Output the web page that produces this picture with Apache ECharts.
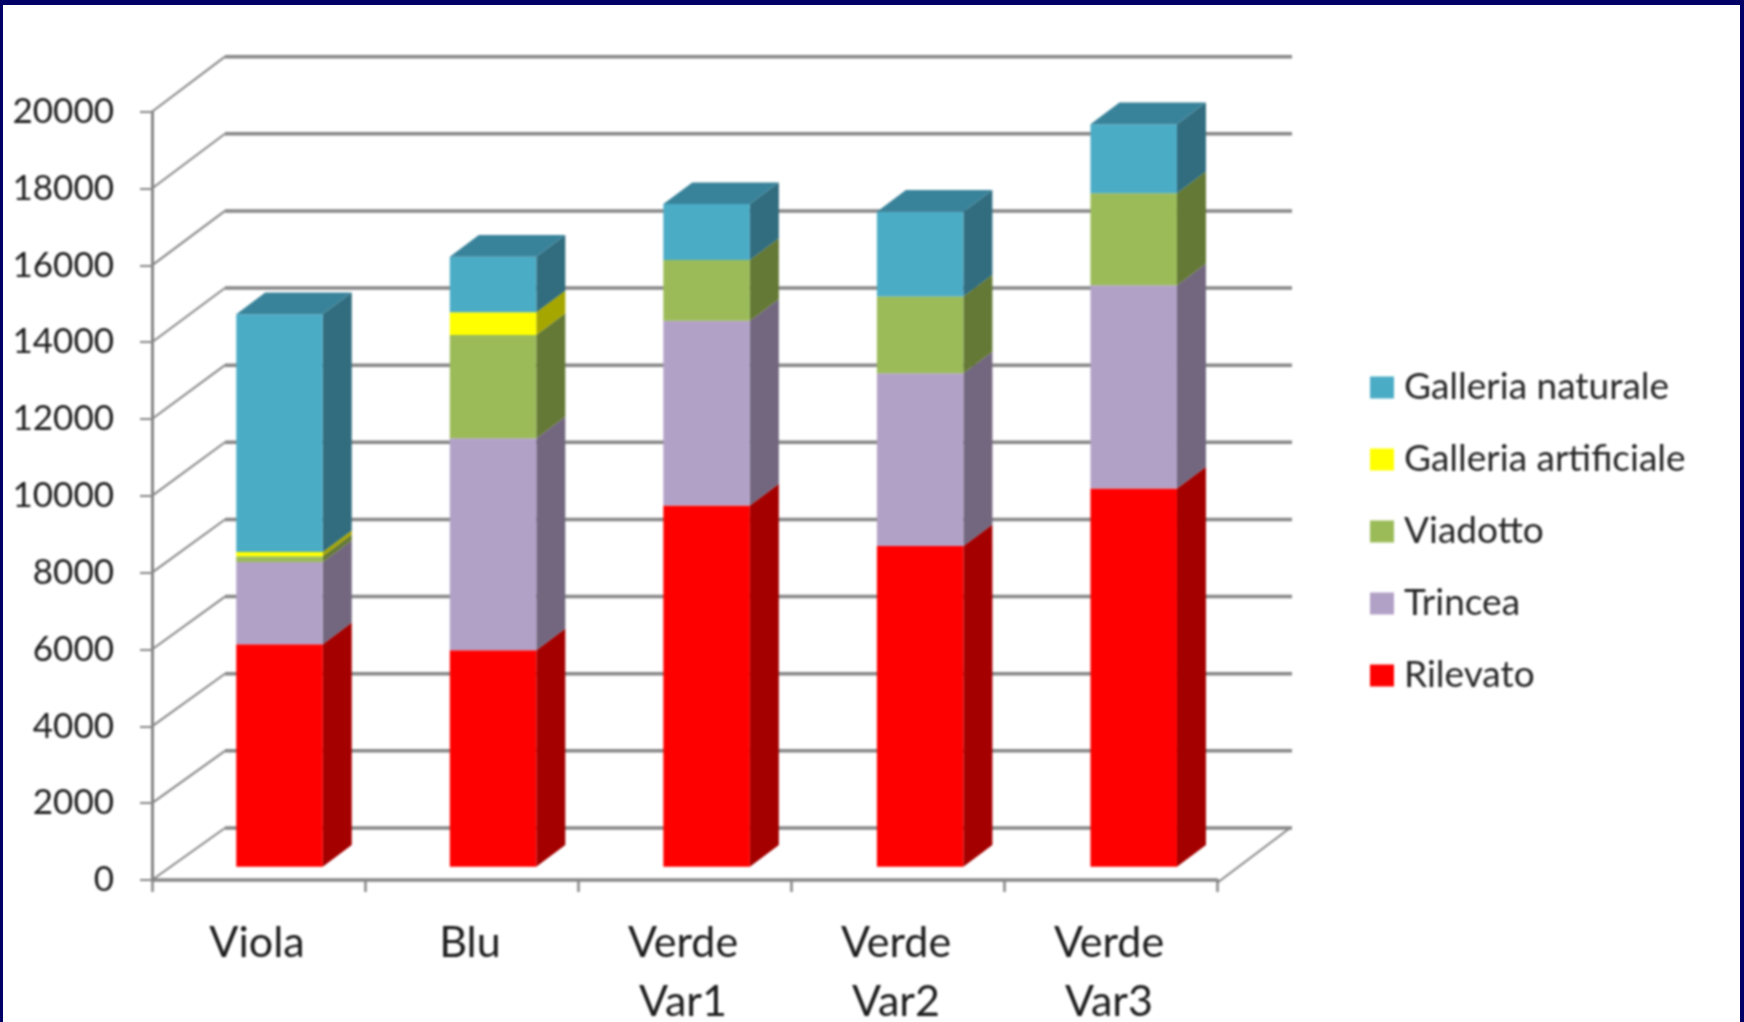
<!DOCTYPE html>
<html><head><meta charset="utf-8">
<style>
html,body{margin:0;padding:0;background:#fff;width:1744px;height:1022px;overflow:hidden}
#c{position:absolute;left:0;top:0;width:1744px;height:1022px;filter:blur(.8px)}
#f{position:absolute;left:0;top:0;width:1744px;height:1022px;box-sizing:border-box;border-top:5px solid #000066;border-left:3px solid #000066;border-right:4px solid #000066;pointer-events:none}
</style>
<script src="https://cdn.jsdelivr.net/npm/echarts@6/dist/echarts.min.js"></script>
</head><body><div id="c"></div><div id="f"></div>
<script>
const categories = ['Viola','Blu','Verde\nVar1','Verde\nVar2','Verde\nVar3'];
const rilevato   = [5790, 5634, 9404, 8346, 9846];
const trincea    = [2140, 5520, 4810, 4498, 5291];
const viadotto   = [150, 2688, 1578, 2002, 2397];
const artificiale= [110, 588, 0, 0, 0];
const naturale   = [6190, 1448, 1456, 2202, 1794];
const yTicks = [0,2000,4000,6000,8000,10000,12000,14000,16000,18000,20000];
const legendOrder = ['Galleria naturale','Galleria artificiale','Viadotto','Trincea','Rilevato'];

const layers = [
  {name:'Rilevato', values:rilevato, front:'#FF0000', side:'#A50000', top:'#C00000'},
  {name:'Trincea', values:trincea, front:'#B2A1C7', side:'#72677F', top:'#8A7C9C'},
  {name:'Viadotto', values:viadotto, front:'#9BBB59', side:'#647935', top:'#7A9444'},
  {name:'Galleria artificiale', values:artificiale, front:'#FFFF00', side:'#A6A600', top:'#C8C800'},
  {name:'Galleria naturale', values:naturale, front:'#4BACC6', side:'#316D7F', top:'#39839A'}
];
const FRONT_DX=22.1, BAR_SPREAD=0.55, FRONT_DY=-13.3, BAR_W=86.5, SIDE_DX=29, SIDE_DY=-21.7;
const WALL_DX=73, WALL_DY=-52, WALL_END=1292, WALL_SCALE=1.004;
const GRID_COLOR='#868686';

function barSeries(layer, idx){
  const bases = categories.map((_,i)=>layers.slice(0,idx).reduce((s,l)=>s+l.values[i],0));
  const isLast = idx===layers.length-1;
  return {
    type:'custom', name:layer.name, z:5+idx, silent:true,
    itemStyle:{color:layer.front},
    encode:{x:0,y:2},
    data:categories.map((c,i)=>[i,bases[i],bases[i]+layer.values[i]]),
    renderItem(params,api){
      const low=api.coord([api.value(0),api.value(1)]);
      const high=api.coord([api.value(0),api.value(2)]);
      if(api.value(1)===api.value(2)) return {type:'group',children:[]};
      const x0=low[0]+FRONT_DX+(api.value(0)-2)*BAR_SPREAD-BAR_W/2, x1=x0+BAR_W;
      const yb=low[1]+FRONT_DY, yt=high[1]+FRONT_DY;
      const kids=[
        {type:'polygon',shape:{points:[[x1,yb],[x1+SIDE_DX,yb+SIDE_DY],[x1+SIDE_DX,yt+SIDE_DY],[x1,yt]]},style:{fill:layer.side}},
        {type:'rect',shape:{x:x0,y:yt,width:BAR_W,height:yb-yt},style:{fill:layer.front}}
      ];
      if(isLast) kids.push({type:'polygon',shape:{points:[[x0,yt],[x0+SIDE_DX,yt+SIDE_DY],[x1+SIDE_DX,yt+SIDE_DY],[x1,yt]]},style:{fill:layer.top}});
      return {type:'group',children:kids};
    }
  };
}
const wallSeries = {
  type:'custom', silent:true, z:1, legendHoverLink:false,
  encode:{y:1},
  data:yTicks.map(v=>[0,v]),
  renderItem(params,api){
    const y=api.coord([0,api.value(1)])[1];
    const y0=api.coord([0,0])[1];
    const wy=y0+WALL_DY+(y-y0)*WALL_SCALE;
    const x=params.coordSys.x, xr=x+params.coordSys.width;
    const kids=[
      {type:'line',shape:{x1:x,y1:y,x2:x+WALL_DX,y2:wy},style:{stroke:GRID_COLOR,lineWidth:2}},
      {type:'line',shape:{x1:x+WALL_DX,y1:wy,x2:WALL_END,y2:wy},style:{stroke:GRID_COLOR,lineWidth:3.5}}
    ];
    if(api.value(1)===0) kids.push({type:'line',shape:{x1:xr,y1:y+3,x2:xr+WALL_DX,y2:wy},style:{stroke:GRID_COLOR,lineWidth:2}});
    return {type:'group',children:kids};
  }
};
const chart=echarts.init(document.getElementById('c'),null,{renderer:'canvas'});
chart.setOption({
  animation:false, backgroundColor:'#fff',
  grid:{left:152,right:527,top:111.7,bottom:142,containLabel:false,outerBoundsMode:'none'},
  legend:{orient:'vertical',left:1365,top:364,itemWidth:24,itemHeight:22,itemGap:35,icon:'rect',
    data:legendOrder,selectedMode:false,
    textStyle:{fontFamily:'Lato',fontSize:37,color:'#262626',lineHeight:22,padding:[0,0,0,5]}},
  xAxis:{type:'category',data:categories,offset:3,
    axisLine:{lineStyle:{color:GRID_COLOR,width:3.5}},
    axisTick:{show:true,length:12,lineStyle:{color:GRID_COLOR,width:2.5}},
    splitLine:{show:false},
    axisLabel:{fontFamily:'Lato',fontSize:43,color:'#1c1c1c',margin:31,lineHeight:59,interval:0,padding:[0,3,0,0]}},
  yAxis:{type:'value',min:0,max:20000,interval:2000,
    axisLine:{show:true,lineStyle:{color:GRID_COLOR,width:3}},
    axisTick:{show:true,length:12,lineStyle:{color:GRID_COLOR,width:2}},
    splitLine:{show:false},
    axisLabel:{fontFamily:'Lato',fontSize:35,color:'#1c1c1c',margin:38,formatter:v=>String(v)}},
  series:[wallSeries].concat(layers.map(barSeries))
});
</script></body></html>
